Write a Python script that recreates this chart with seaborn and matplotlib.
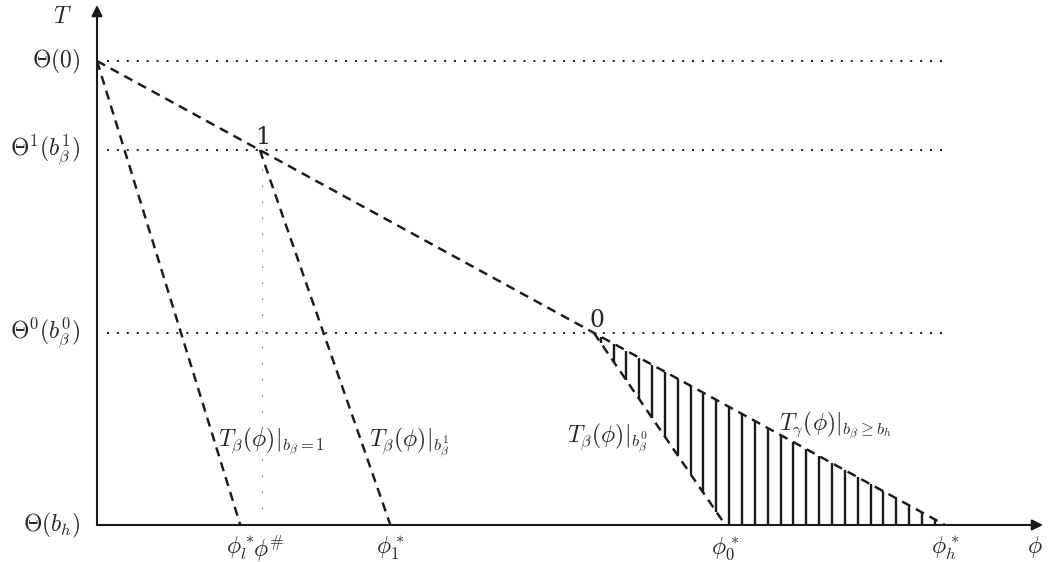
import numpy as np
import pandas as pd
import seaborn as sns
import matplotlib
matplotlib.use("Agg")
import matplotlib.pyplot as plt

# --- values (normalised: Theta(0) = 1, phi_h^* = 1) ---
phi_names = [r"$\phi_l^*$", r"$\phi^\#$", r"$\phi_1^*$", r"$\phi_0^*$", r"$\phi_h^*$"]
phi_vals = [0.169, 0.195, 0.346, 0.741, 1.0]
theta_names = [r"$\Theta(0)$", r"$\Theta^1(b_\beta^1)$", r"$\Theta^0(b_\beta^0)$", r"$\Theta(b_h)$"]
theta_vals = [1.0, 0.808, 0.414, 0.0]

# kink points on the T_gamma curve
point_names = ["1", "0"]
point_phi = [0.192, 0.586]
point_T = [0.808, 0.414]

gamma_phi = [0.0, 0.192, 0.586, 1.0]
gamma_T = [1.0, 0.808, 0.414, 0.0]
beta1_phi = [0.0, 0.169]          # T_beta | b_beta = 1
beta1_T = [1.0, 0.0]
betab1_phi = [0.192, 0.346]       # T_beta | b_beta^1
betab1_T = [0.808, 0.0]
betab0_phi = [0.586, 0.741]       # T_beta | b_beta^0
betab0_T = [0.414, 0.0]

sns.set_theme(style="white")
plt.rcParams["mathtext.fontset"] = "cm"
plt.rcParams["font.family"] = ["DejaVu Serif"]

W, H = 1048, 562
fig = plt.figure(figsize=(W / 100, H / 100), dpi=100)
ax = fig.add_axes([0, 0, 1, 1])
sx, sy = 848.0, 464.0   # pixels per data unit
ox, oy = 97.0, 37.0     # origin from the lower-left corner, pixels
ax.set_xlim(-ox / sx, (W - ox) / sx)
ax.set_ylim(-oy / sy, (H - oy) / sy)
ax.axis("off")

FS = 17
dash = (0, (3.8, 2.6))

# horizontal dotted guides
for t in theta_vals[:3]:
    ax.plot([0.012, 1.0], [t, t], color="k", lw=1.4, linestyle=(0, (1, 4.1)))

# vertical faint guide at phi^#
ax.plot([phi_vals[1], phi_vals[1]], [0, point_T[0]], color="0.5", lw=0.8,
        linestyle=(0, (1.5, 13)))

# hatching between T_beta|b0 and T_gamma
hx = np.arange(0.594, 0.995, 0.01515)
upper = np.interp(hx, gamma_phi, gamma_T)
lower = np.where(hx < betab0_phi[1],
                 np.interp(hx, betab0_phi, betab0_T), 0.0)
ax.vlines(hx, lower, upper, color="k", lw=1.7)

# dashed curves
for xs, ys in [(gamma_phi, gamma_T), (beta1_phi, beta1_T),
               (betab1_phi, betab1_T), (betab0_phi, betab0_T)]:
    df = pd.DataFrame({"phi": xs, "T": ys})
    sns.lineplot(data=df, x="phi", y="T", ax=ax, color="k", lw=1.75,
                 linestyle=dash, sort=False, estimator=None)

# axes with arrows
ax.annotate("", xy=((1043 - ox) / sx, 0), xytext=(0, 0),
            arrowprops=dict(arrowstyle="-|>", color="k", lw=1.5,
                            mutation_scale=16, shrinkA=0, shrinkB=0))
ax.annotate("", xy=(0, (H - oy - 5) / sy), xytext=(0, 0),
            arrowprops=dict(arrowstyle="-|>", color="k", lw=1.5,
                            mutation_scale=16, shrinkA=0, shrinkB=0))
ax.set_xlabel("")
ax.set_ylabel("")

# axis names
ax.annotate(r"$\phi$", xy=((1043 - ox) / sx, 0), xytext=(-6, -16),
            textcoords="offset points", ha="center", va="center", fontsize=FS)
ax.annotate(r"$T$", xy=(0, (H - oy - 5) / sy), xytext=(-25, -8),
            textcoords="offset points", ha="center", va="center", fontsize=FS)

# theta labels
for name, t in zip(theta_names, theta_vals):
    ax.annotate(name, xy=(0, t), xytext=(-12, 0), textcoords="offset points",
                ha="right", va="center", fontsize=FS)

# phi labels
ax.annotate(phi_names[0], xy=(phi_vals[0], 0), xytext=(0, -17),
            textcoords="offset points", ha="center", va="center", fontsize=FS)
ax.annotate(phi_names[1], xy=(phi_vals[1], 0), xytext=(-6.5, -17),
            textcoords="offset points", ha="left", va="center", fontsize=FS)
for name, p in zip(phi_names[2:], phi_vals[2:]):
    ax.annotate(name, xy=(p, 0), xytext=(0, -17), textcoords="offset points",
                ha="center", va="center", fontsize=FS)

# kink point labels
for name, p, t in zip(point_names, point_phi, point_T):
    ax.annotate(name, xy=(p, t), xytext=(2, 9), textcoords="offset points",
                ha="center", va="center", fontsize=FS)

# curve labels
curve_labels = [
    (r"$T_\beta(\phi)|_{b_\beta=1}$", 218, 442),
    (r"$T_\beta(\phi)|_{b_\beta^1}$", 369, 442),
    (r"$T_\beta(\phi)|_{b_\beta^0}$", 567, 438),
    (r"$T_\gamma(\phi)|_{b_\beta\geq b_h}$", 779, 426),
]
for txt, px, py in curve_labels:
    ax.text((px - ox) / sx, (H - py - oy) / sy, txt, ha="left", va="center",
            fontsize=FS)

fig.savefig("out.png", dpi=100, facecolor="white")
